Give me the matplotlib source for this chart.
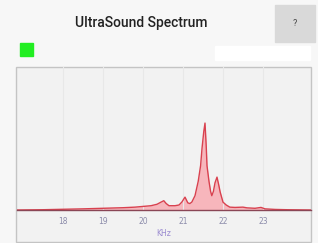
"""UltraSound spectrum panel, redrawn from a phone screenshot."""

import matplotlib

matplotlib.use("Agg")
import matplotlib.pyplot as plt
from matplotlib.patches import Rectangle

# spectrum (kHz, relative amplitude)
freq_khz = [16.85, 17.5, 18.0, 18.5, 19.0, 19.5, 19.8, 20.0, 20.2, 20.35,
            20.45, 20.52, 20.58, 20.65, 20.8, 20.9, 20.97, 21.05, 21.12, 21.17,
            21.22, 21.3, 21.38, 21.44, 21.475, 21.52, 21.55, 21.58, 21.6, 21.65,
            21.69, 21.72, 21.76, 21.8, 21.85, 21.89, 21.93, 22.0, 22.08, 22.17,
            22.3, 22.5, 22.6, 22.8, 22.95, 23.05, 23.3, 23.6, 24.2]
amplitude = [0.0, 0.002, 0.005, 0.008, 0.012, 0.016, 0.020, 0.025, 0.030, 0.040,
             0.055, 0.065, 0.045, 0.030, 0.030, 0.035, 0.055, 0.090, 0.050, 0.045,
             0.055, 0.100, 0.200, 0.310, 0.430, 0.550, 0.608, 0.450, 0.310, 0.200,
             0.130, 0.100, 0.130, 0.190, 0.230, 0.180, 0.125, 0.055, 0.035, 0.020,
             0.018, 0.020, 0.015, 0.012, 0.018, 0.008, 0.004, 0.002, 0.0]
tick_khz = [18, 19, 20, 21, 22, 23]

W, H = 318, 243
fig = plt.figure(figsize=(W / 100, H / 100), dpi=100)
fig.patch.set_facecolor("#f7f7f7")


def fx(px):
    return px / W


def fy(py):
    return 1 - py / H


# header
fig.text(fx(141), fy(23), "UltraSound Spectrum", ha="center", va="center",
         fontsize=10, family="Roboto", weight="medium", color="#222222")
fig.patches.append(Rectangle((fx(275), fy(42)), fx(40), 37 / H,
                             transform=fig.transFigure, color="#d9d9d9", zorder=-1))
fig.text(fx(295), fy(23), "?", ha="center", va="center", fontsize=6.5,
         family="Roboto", color="#444444")
fig.patches.append(Rectangle((fx(20), fy(56)), fx(13), 13 / H,
                             transform=fig.transFigure, color="#22ee22", zorder=-1))
fig.patches.append(Rectangle((fx(215), fy(60)), fx(95), 14 / H,
                             transform=fig.transFigure, color="#ffffff", zorder=-1))

# chart panel
fig.patches.append(Rectangle((fx(16), fy(242)), fx(295), 175 / H,
                             transform=fig.transFigure, facecolor="#f2f2f2",
                             edgecolor="#c4c4c4", linewidth=1, zorder=-1))

ax = fig.add_axes([fx(17), fy(210), fx(294), 143 / H], zorder=2)
ax.set_facecolor("none")
ax.fill_between(freq_khz, amplitude, color="#f7b6bc", linewidth=0)
ax.plot(freq_khz, amplitude, color="#d9414f", linewidth=1.0)
ax.set_xlim(16.85, 24.2)
ax.set_ylim(0, 1)
ax.set_xticks(tick_khz)
ax.set_xticklabels([str(t) for t in tick_khz])
ax.set_yticks([])
ax.grid(axis="x", color="#e8e8e8", linewidth=0.8)
ax.tick_params(axis="x", length=0, pad=5, labelsize=5.5, labelcolor="#8c8cab")
for side in ("top", "left", "right"):
    ax.spines[side].set_visible(False)
ax.spines["bottom"].set_color("#8a4656")
ax.spines["bottom"].set_linewidth(1.0)
ax.set_xlabel("KHz", fontsize=5.5, color="#9a8ad0", labelpad=2)

fig.savefig("out.png", dpi=100, facecolor=fig.get_facecolor())
